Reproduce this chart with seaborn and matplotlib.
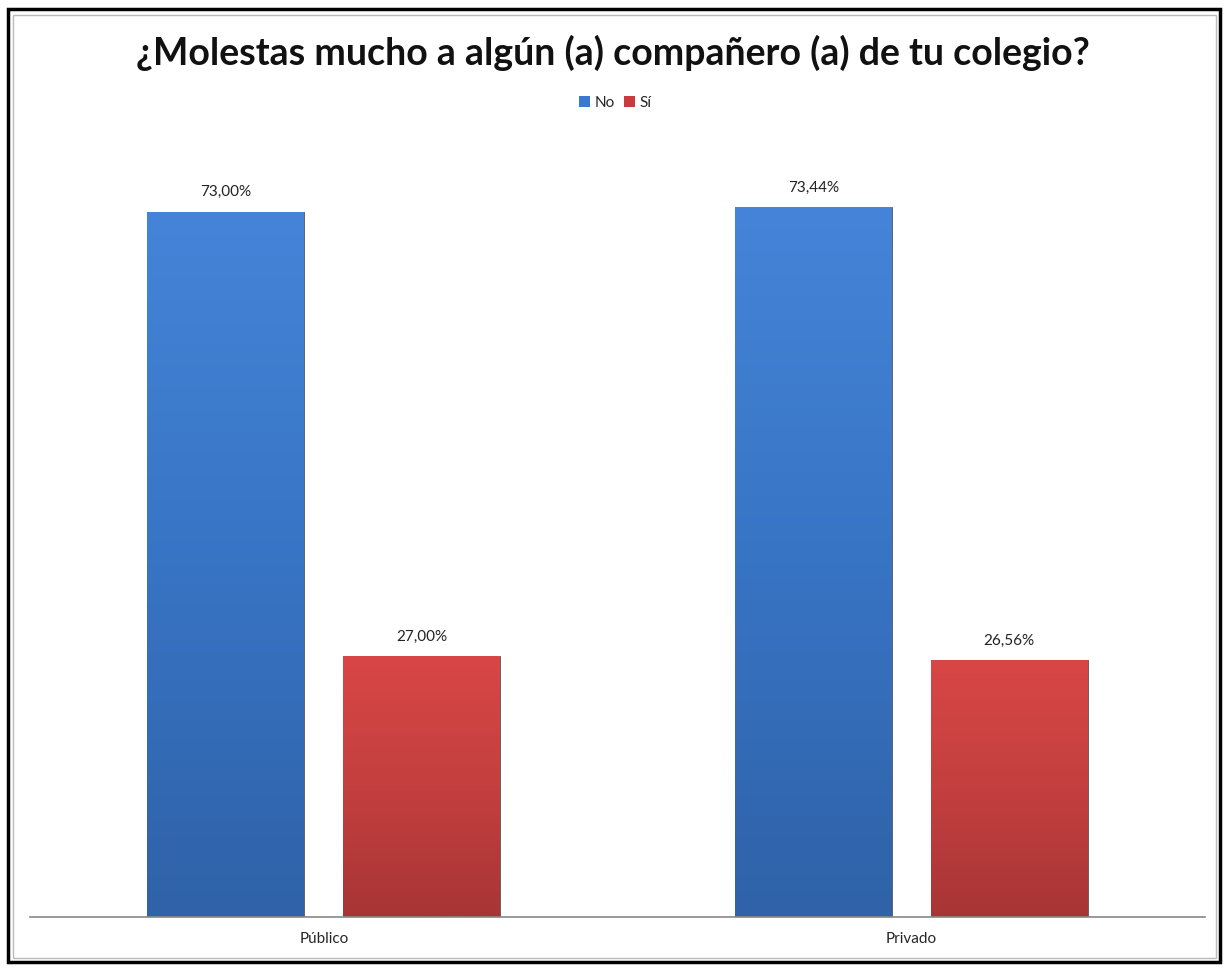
import numpy as np
import pandas as pd
import seaborn as sns
import matplotlib.pyplot as plt
from matplotlib.patches import Rectangle
from matplotlib.colors import LinearSegmentedColormap

# data
categories = ["Público", "Privado"]
series = ["No", "Sí"]
values_no = [73.00, 73.44]
values_si = [27.00, 26.56]
labels_no = ["73,00%", "73,44%"]
labels_si = ["27,00%", "26,56%"]

df = pd.DataFrame({
    "tipo": categories * 2,
    "respuesta": ["No"] * 2 + ["Sí"] * 2,
    "valor": values_no + values_si,
})

sns.set_style("white")
plt.rcParams['font.family'] = ['Lato', 'DejaVu Sans']

fig = plt.figure(figsize=(12.26, 9.71), dpi=100)
ax = fig.add_axes([0.0245, 0.0556, 0.9585, 0.7961])

palette = {"No": "#3b78cf", "Sí": "#cc3b3b"}
sns.barplot(data=df, x="tipo", y="valor", hue="respuesta", hue_order=series,
            order=categories, palette=palette, width=0.667, gap=0.2,
            ax=ax, legend=False)

# vertical gradient on each bar
grads = {
    "No": LinearSegmentedColormap.from_list("b", ["#2f62a8", "#3874c4", "#4584d8"]),
    "Sí": LinearSegmentedColormap.from_list("r", ["#a83535", "#c43f3f", "#d94646"]),
}
grad = np.linspace(0, 1, 256).reshape(-1, 1)
for cont, name in zip(ax.containers, series):
    for bar in cont:
        x0, w, h = bar.get_x(), bar.get_width(), bar.get_height()
        bar.set_edgecolor("#555555")
        bar.set_linewidth(0.6)
        im = ax.imshow(grad, extent=[x0, x0 + w, 0, h], origin="lower",
                       aspect="auto", cmap=grads[name], zorder=bar.get_zorder() + 0.1)
        im.set_clip_path(bar)
    labs = labels_no if name == "No" else labels_si
    ax.bar_label(cont, labels=labs, padding=9, fontsize=11, color="#222222")

ax.set_xlim(-0.5, 1.5)
ax.set_ylim(0, 80)
ax.set_xlabel("")
ax.set_ylabel("")
ax.set_yticks([])
ax.tick_params(axis="x", length=0, labelsize=11, pad=11)
for s in ["top", "left", "right"]:
    ax.spines[s].set_visible(False)
ax.spines["bottom"].set_color("#888888")
ax.spines["bottom"].set_linewidth(1.2)

fig.text(0.5, 0.946, "¿Molestas mucho a algún (a) compañero (a) de tu colegio?",
         ha="center", va="center", fontsize=27, fontweight="bold", color="#111111")

# legend
handles = [Rectangle((0, 0), 1, 1, facecolor=palette[s], edgecolor="none") for s in series]
fig.legend(handles, series, loc="center", bbox_to_anchor=(0.502, 0.894), ncol=2,
           frameon=False, fontsize=11, handlelength=0.7, handleheight=0.7,
           handletextpad=0.3, columnspacing=0.6)

# outer frame
fig.patches.append(Rectangle((0.0065, 0.009), 0.989, 0.982, transform=fig.transFigure,
                             fill=False, edgecolor="black", linewidth=2.5))
fig.patches.append(Rectangle((0.0105, 0.013), 0.981, 0.972, transform=fig.transFigure,
                             fill=False, edgecolor="#bbbbbb", linewidth=1))

fig.savefig("out.png", dpi=100)
